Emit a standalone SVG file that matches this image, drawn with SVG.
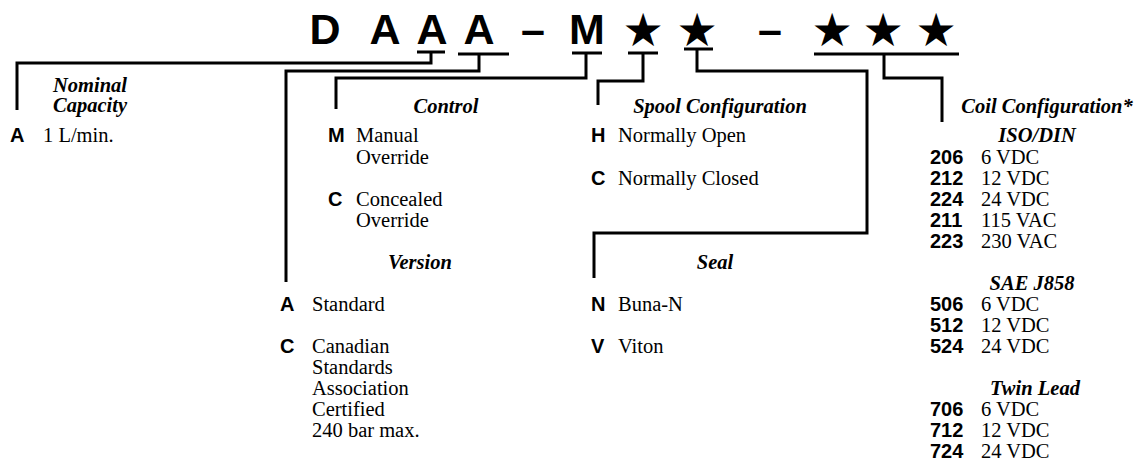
<svg xmlns="http://www.w3.org/2000/svg" width="1138" height="462" viewBox="0 0 1138 462">
<style>
.bg{fill:#fff}
.title{font-family:"Liberation Sans",Arial,sans-serif;font-weight:bold;font-size:43px;fill:#000;text-anchor:middle}
.star{font-family:"DejaVu Sans",sans-serif;font-size:46px;fill:#000;text-anchor:middle}
.hd{font-family:"Liberation Serif","Times New Roman",serif;font-weight:bold;font-style:italic;font-size:20.5px;fill:#000;text-anchor:middle}
.code{font-family:"Liberation Sans",Arial,sans-serif;font-weight:bold;font-size:20px;fill:#000}
.txt{font-family:"Liberation Serif","Times New Roman",serif;font-size:20.5px;fill:#000}
.ln{fill:none;stroke:#000;stroke-width:3;stroke-linecap:butt;stroke-linejoin:miter}
</style>
<rect class="bg" x="0" y="0" width="1138" height="462"/>
<g id="title">
<text class="title" x="325" y="44">D</text>
<text class="title" x="385" y="44">A</text>
<text class="title" x="432" y="44">A</text>
<text class="title" x="479" y="44">A</text>
<text class="title" x="533" y="44">–</text>
<text class="title" x="587" y="44">M</text>
<text class="star" x="643" y="46">★</text>
<text class="star" x="697" y="46">★</text>
<text class="title" x="770" y="44">–</text>
<text class="star" x="832" y="46">★</text>
<text class="star" x="883" y="46">★</text>
<text class="star" x="936" y="46">★</text>
</g>
<g id="connectors">
<path class="ln" d="M417,52 H445 M458,54 H509 M572,53 H602 M628,53 H658 M684,49 H713 M814,54 H959"/>
<path class="ln" d="M431,52 V63 H17 V110"/>
<path class="ln" d="M479,54 V71 H286 V282"/>
<path class="ln" d="M586,53 V78 H336 V109"/>
<path class="ln" d="M643,53 V81 H598 V105"/>
<path class="ln" d="M697,49 V71 H867 V233 H594 V278"/>
<path class="ln" d="M884,54 V78 H942 V122"/>
</g>
<g id="nominal">
<text class="hd" x="90" y="92">Nominal</text>
<text class="hd" x="90" y="112">Capacity</text>
<text class="code" x="10" y="142">A</text>
<text class="txt" x="43" y="142">1 L/min.</text>
</g>
<g id="control">
<text class="hd" x="446" y="113">Control</text>
<text class="code" x="328" y="142">M</text>
<text class="txt" x="356" y="142">Manual</text>
<text class="txt" x="356" y="164">Override</text>
<text class="code" x="328" y="206">C</text>
<text class="txt" x="356" y="206">Concealed</text>
<text class="txt" x="356" y="227">Override</text>
</g>
<g id="version">
<text class="hd" x="420" y="269">Version</text>
<text class="code" x="280" y="311">A</text>
<text class="txt" x="312" y="311">Standard</text>
<text class="code" x="280" y="353">C</text>
<text class="txt" x="312" y="353">Canadian</text>
<text class="txt" x="312" y="374">Standards</text>
<text class="txt" x="312" y="395">Association</text>
<text class="txt" x="312" y="416">Certified</text>
<text class="txt" x="312" y="437">240 bar max.</text>
</g>
<g id="spool">
<text class="hd" x="720" y="113">Spool Configuration</text>
<text class="code" x="591" y="142">H</text>
<text class="txt" x="618" y="142">Normally Open</text>
<text class="code" x="591" y="185">C</text>
<text class="txt" x="618" y="185">Normally Closed</text>
</g>
<g id="seal">
<text class="hd" x="715" y="269">Seal</text>
<text class="code" x="591" y="311">N</text>
<text class="txt" x="618" y="311">Buna-N</text>
<text class="code" x="591" y="353">V</text>
<text class="txt" x="618" y="353">Viton</text>
</g>
<g id="coil">
<text class="hd" x="1047" y="113">Coil Configuration*</text>
<text class="hd" x="1037" y="142">ISO/DIN</text>
<text class="code" x="930" y="164">206</text><text class="txt" x="981" y="164">6 VDC</text>
<text class="code" x="930" y="185">212</text><text class="txt" x="981" y="185">12 VDC</text>
<text class="code" x="930" y="206">224</text><text class="txt" x="981" y="206">24 VDC</text>
<text class="code" x="930" y="227">211</text><text class="txt" x="981" y="227">115 VAC</text>
<text class="code" x="930" y="248">223</text><text class="txt" x="981" y="248">230 VAC</text>
<text class="hd" x="1032" y="290">SAE J858</text>
<text class="code" x="930" y="311">506</text><text class="txt" x="981" y="311">6 VDC</text>
<text class="code" x="930" y="332">512</text><text class="txt" x="981" y="332">12 VDC</text>
<text class="code" x="930" y="353">524</text><text class="txt" x="981" y="353">24 VDC</text>
<text class="hd" x="1035" y="395">Twin Lead</text>
<text class="code" x="930" y="416">706</text><text class="txt" x="981" y="416">6 VDC</text>
<text class="code" x="930" y="437">712</text><text class="txt" x="981" y="437">12 VDC</text>
<text class="code" x="930" y="458">724</text><text class="txt" x="981" y="458">24 VDC</text>
</g>
</svg>
